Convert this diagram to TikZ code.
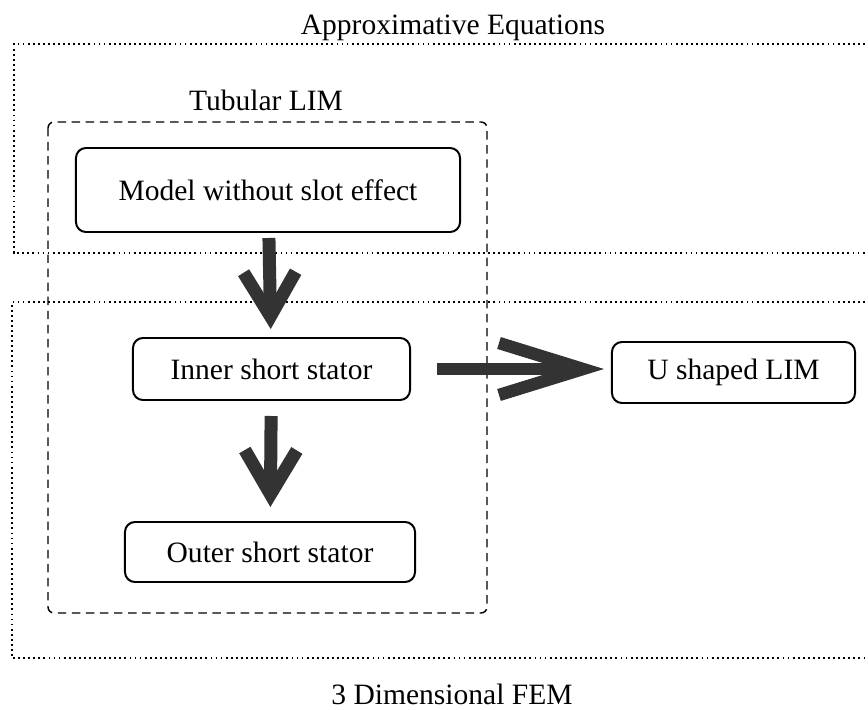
\documentclass[tikz,border=0pt]{standalone}
\usepackage{fontspec}
\setmainfont{Liberation Serif}
\usetikzlibrary{arrows.meta}

\begin{document}
\begin{tikzpicture}[x=0.025cm, y=-0.025cm,
    font=\fontsize{21}{25}\selectfont,
    stagebox/.style={draw, line width=1.4pt, rounded corners=0.25cm, inner sep=0pt},
    dotframe/.style={line width=1.3pt, dash pattern=on 1.3pt off 2.3pt},
    dashframe/.style={line width=1pt, dash pattern=on 6pt off 4pt, rounded corners=0.15cm},
    downarrow/.style={draw=black!80, line width=0.325cm, -{Straight Barb[length=1.1cm, width=1.3cm]}},
    rightarrow/.style={draw=black!80, line width=0.31cm, -{Straight Barb[length=2.1cm, width=1.3cm]}}]

    % Fix the page to the size of the reference
    \useasboundingbox (0,0) rectangle (868,710);

    % Draw the two dotted regions, open on the right
    \draw[dotframe] (880,44) -| (14,253) -- (880,253);
    \draw[dotframe] (880,302) -| (12,658) -- (880,658);
    \node (approx) at (453,28) {Approximative Equations};
    \node (fem) at (452,694) {3 Dimensional FEM};

    % Draw the dashed tubular LIM frame and its title
    \draw[dashframe] (48,122) rectangle (487,613);
    \node (tubular) at (266,100) {Tubular LIM};

    % Draw the model boxes
    \node[stagebox, minimum width=9.6cm, minimum height=2.1cm] (model) at (268,190) {Model without slot effect};
    \node[stagebox, minimum width=6.925cm, minimum height=1.55cm] (inner) at (271.5,369) {Inner short stator};
    \node[stagebox, minimum width=7.25cm, minimum height=1.5cm] (outer) at (270,552) {Outer short stator};
    \node[stagebox, minimum width=6.075cm, minimum height=1.525cm] (ushape) at (733.5,372.5) {U shaped LIM};

    % Draw the thick arrows between the boxes
    \draw[downarrow, shorten <=0.125cm, shorten >=0.2cm] (model) -- (inner);
    \draw[downarrow, shorten <=0.375cm, shorten >=0.35cm] (inner) -- (outer);
    \draw[rightarrow, shorten <=0.65cm, shorten >=0.175cm] (inner.east) -- (inner.east -| ushape.west);
\end{tikzpicture}
\end{document}
